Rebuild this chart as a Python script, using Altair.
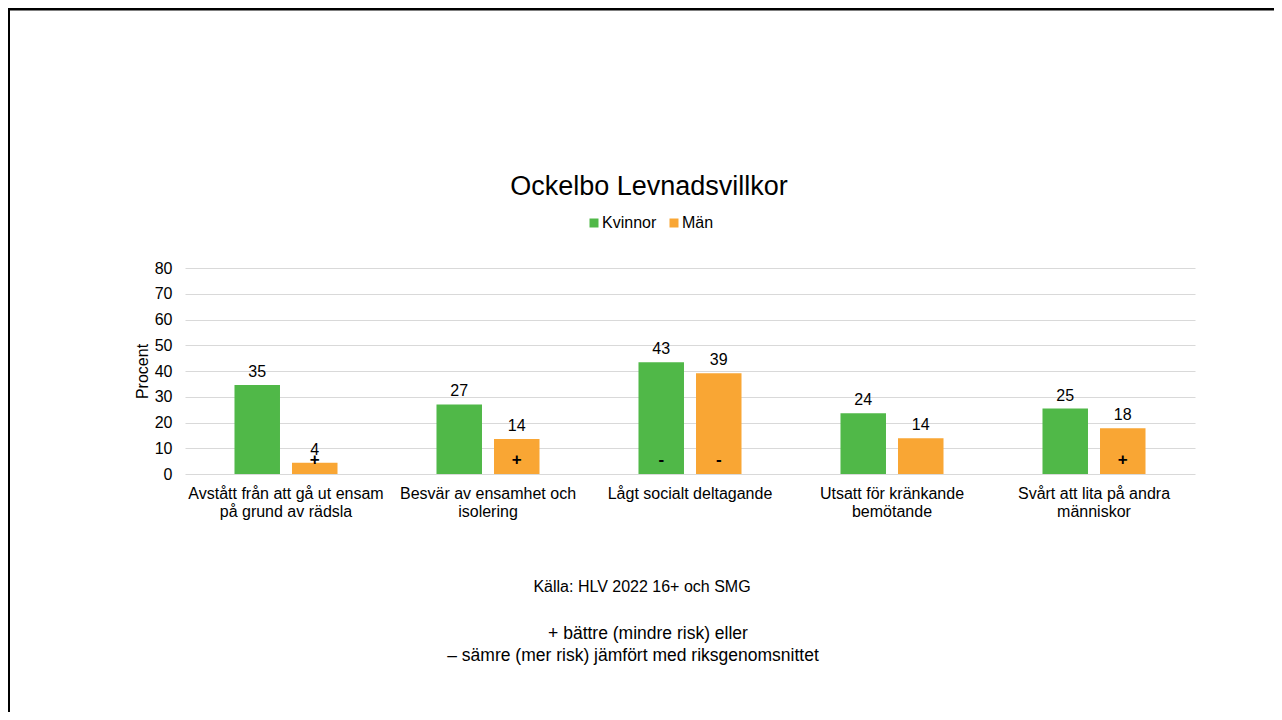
import altair as alt
import pandas as pd

# ---- data ----
categories = [
    "Avstått från att gå ut ensam|på grund av rädsla",
    "Besvär av ensamhet och|isolering",
    "Lågt socialt deltagande",
    "Utsatt för kränkande|bemötande",
    "Svårt att lita på andra|människor",
]
series = ["Kvinnor", "Män"]
kvinnor = [34.6, 27.0, 43.4, 23.6, 25.4]
man = [4.4, 13.6, 39.1, 13.9, 17.8]
kvinnor_marks = ["", "", "-", "", ""]
man_marks = ["+", "+", "-", "", "+"]
colors = ["#50B848", "#F9A634"]
y_ticks = [0, 10, 20, 30, 40, 50, 60, 70, 80]

title_text = "Ockelbo Levnadsvillkor"
source_text = "Källa: HLV 2022 16+ och SMG"
note_line1 = "+ bättre (mindre risk) eller"
note_line2 = "– sämre (mer risk) jämfört med riksgenomsnittet"

FONT = "Liberation Sans"

rows = []
for c, v, m in zip(categories, kvinnor, kvinnor_marks):
    rows.append({"Kategori": c, "Kön": "Kvinnor", "Värde": v, "Markering": m})
for c, v, m in zip(categories, man, man_marks):
    rows.append({"Kategori": c, "Kön": "Män", "Värde": v, "Markering": m})
df = pd.DataFrame(rows)

W, H = 1010, 206

y_scale = alt.Scale(domain=[0, 80], nice=False)
y_axis = alt.Axis(
    values=y_ticks,
    tickCount=9,
    title="Procent",
    titleFontSize=16,
    titleFontWeight="normal",
    titleColor="black",
    titleFont=FONT,
    titlePadding=4,
    labelFontSize=16,
    labelColor="black",
    labelFont=FONT,
    labelPadding=13,
    labelOverlap=False,
    ticks=False,
    tickSize=0,
    domain=False,
    grid=True,
    gridColor="#D9D9D9",
    gridWidth=1,
)

base = alt.Chart(df).encode(
    x=alt.X(
        "Kategori:N",
        sort=categories,
        scale=alt.Scale(paddingInner=0.49, paddingOuter=0.245),
        axis=alt.Axis(
            title=None,
            labelExpr="split(datum.label, '|')",
            labelAngle=0,
            labelFontSize=16,
            labelColor="black",
            labelPadding=11,
            labelLineHeight=18.5,
            labelLimit=400,
            ticks=False,
            tickSize=0,
            domain=False,
            grid=False,
            labelFont=FONT,
        ),
    ),
    xOffset=alt.XOffset("Kön:N", sort=series,
                        scale=alt.Scale(paddingInner=0.209, paddingOuter=0)),
)

bars = base.mark_bar().encode(
    y=alt.Y("Värde:Q", scale=y_scale, axis=y_axis),
    color=alt.Color(
        "Kön:N",
        scale=alt.Scale(domain=series, range=colors),
        legend=alt.Legend(
            title=None,
            orient="none",
            legendX=401,
            legendY=-53,
            direction="horizontal",
            symbolType="square",
            symbolSize=81,
            symbolStrokeWidth=0,
            labelFontSize=16,
            labelFont=FONT,
            labelColor="black",
            labelOffset=0,
            columnPadding=9,
        ),
    ),
)

values = base.mark_text(baseline="bottom", dy=-5, fontSize=16, font=FONT, color="black").encode(
    y=alt.Y("Värde:Q", scale=y_scale, axis=y_axis),
    text=alt.Text("Värde:Q", format=".0f"),
)

markers = base.transform_filter("datum.Markering != ''").mark_text(
    fontSize=17, fontWeight="bold", font=FONT, color="black", baseline="middle"
).encode(
    y=alt.Y(datum=5.5, type="quantitative", scale=y_scale, axis=y_axis),
    text="Markering:N",
)

one = pd.DataFrame({"t": [0]})

title_layer = alt.Chart(pd.DataFrame({"t": [title_text]})).mark_text(
    fontSize=27, font=FONT, color="black", align="center", baseline="alphabetic"
).encode(x=alt.value(464), y=alt.value(-73), text="t:N")

source_layer = alt.Chart(pd.DataFrame({"t": [source_text]})).mark_text(
    fontSize=16, font=FONT, color="black", align="center", baseline="alphabetic"
).encode(x=alt.value(457), y=alt.value(324), text="t:N")

note1_layer = alt.Chart(pd.DataFrame({"t": [note_line1]})).mark_text(
    fontSize=17.5, font=FONT, color="black", align="center", baseline="alphabetic"
).encode(x=alt.value(463), y=alt.value(371), text="t:N")

note2_layer = alt.Chart(pd.DataFrame({"t": [note_line2]})).mark_text(
    fontSize=17.5, font=FONT, color="black", align="center", baseline="alphabetic"
).encode(x=alt.value(448), y=alt.value(393), text="t:N")

top_border = alt.Chart(one).mark_rule(color="black", strokeWidth=3).encode(
    x=alt.value(-177), x2=alt.value(W + 79), y=alt.value(-259)
)
left_border = alt.Chart(one).mark_rule(color="black", strokeWidth=2).encode(
    x=alt.value(-176), y=alt.value(-260), y2=alt.value(H + 238)
)

chart = alt.layer(
    bars, values, markers, title_layer, source_layer, note1_layer, note2_layer,
    top_border, left_border
).properties(
    width=W,
    height=H,
    padding={"left": 177, "top": 260, "right": 79, "bottom": 238},
    autosize=alt.AutoSizeParams(type="none"),
    background="white",
).configure(font=FONT).configure_view(stroke=None)

chart.save("out.html", embed_options={"renderer": "svg", "actions": False})
